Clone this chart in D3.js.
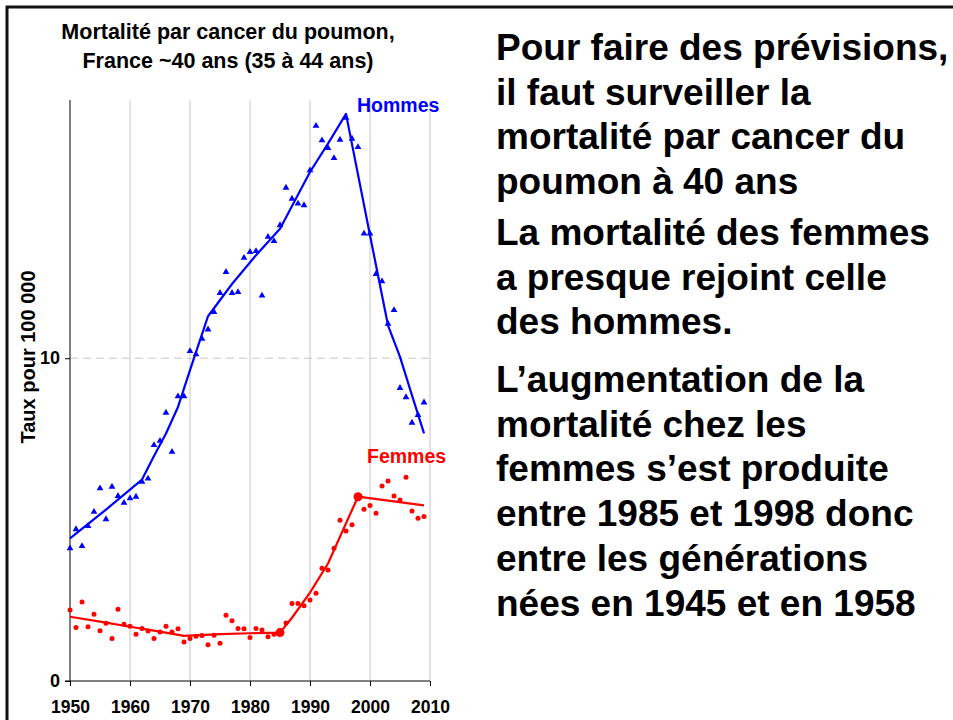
<!DOCTYPE html>
<html>
<head>
<meta charset="utf-8">
<script src="https://cdn.jsdelivr.net/npm/d3@7"></script>
<style>
  html, body { margin: 0; padding: 0; background: #fff; }
  svg { display: block; font-family: "Liberation Sans", Arial, sans-serif; }
</style>
</head>
<body>
<div id="area"></div>
<script>
// observed rates, per 100 000, 1950..2009
const years = d3.range(1950, 2010);
const hommes = [4.11, 4.70, 4.18, 4.80, 5.24, 5.97, 5.01, 6.02, 5.73, 5.52,
                5.66, 5.71, 6.17, 6.27, 7.31, 7.44, 8.31, 7.10, 8.82, 8.82,
                10.22, 10.12, 10.60, 10.89, 11.43, 12.02, 12.67, 12.02, 12.05, 13.11,
                13.29, 13.32, 11.94, 13.76, 13.63, 14.12, 15.28, 14.94, 14.79, 14.74,
                15.82, 17.20, 16.75, 16.51, 16.20, 16.77, 17.45, 16.80, 16.54, 13.86,
                13.86, 12.61, 12.38, 11.07, 11.49, 9.08, 8.79, 8.00, 8.24, 8.63];
const femmes = [2.20, 1.66, 2.45, 1.68, 2.07, 1.56, 1.79, 1.32, 2.22, 1.76,
                1.70, 1.45, 1.63, 1.55, 1.32, 1.52, 1.70, 1.52, 1.62, 1.21,
                1.32, 1.39, 1.41, 1.12, 1.42, 1.17, 2.04, 1.87, 1.63, 1.62,
                1.35, 1.63, 1.58, 1.37, 1.45, 1.50, 1.80, 2.40, 2.40, 2.33,
                2.51, 2.72, 3.49, 3.44, 4.11, 4.98, 4.65, 4.84, 5.71, 5.32,
                5.44, 5.20, 6.04, 6.20, 5.73, 5.61, 6.31, 5.27, 5.04, 5.10];

// fitted trend lines
const fitHommesYears = [1950, 1956, 1962, 1964, 1966, 1968, 1970, 1973, 1977, 1981, 1985, 1990, 1993, 1996, 2000, 2003, 2005, 2007, 2009];
const fitHommes      = [4.42, 5.31, 6.24, 6.97, 7.67, 8.49, 9.63, 11.30, 12.30, 13.19, 14.01, 15.77, 16.65, 17.57, 13.81, 11.02, 10.04, 8.85, 7.67];
const fitFemmesYears = [1950, 1955, 1960, 1965, 1969, 1975, 1980, 1985, 1987, 1990, 1993, 1995, 1998, 2009];
const fitFemmes      = [1.99, 1.84, 1.68, 1.53, 1.40, 1.45, 1.48, 1.50, 1.96, 2.74, 3.64, 4.47, 5.71, 5.44];
const joinYears = [1985, 1998];
const joinFemmes = [1.50, 5.71];

const xTicks = [1950, 1960, 1970, 1980, 1990, 2000, 2010];
const yTicks = [0, 10];

const titleLines = ["Mortalité par cancer du poumon,", "France ~40 ans (35 à 44 ans)"];
const textLines = [
  ["Pour faire des prévisions,", "il faut surveiller la", "mortalité par cancer du", "poumon à 40 ans"],
  ["La mortalité des femmes", "a presque rejoint celle", "des hommes."],
  ["L’augmentation de la", "mortalité chez les", "femmes s’est produite", "entre 1985 et 1998 donc", "entre les générations", "nées en 1945 et en 1958"]
];

const width = 953, height = 720;
const blue = '#0000ff', red = '#ff0000', grid = '#c8c8c8';

const svg = d3.select('#area').append('svg')
    .attr('width', width)
    .attr('height', height);

// slide frame
svg.append('rect')
    .attr('x', 7).attr('y', 7)
    .attr('width', width + 20).attr('height', height + 20)
    .attr('fill', 'none').attr('stroke', '#111').attr('stroke-width', 3);

const x = d3.scaleLinear().domain([1950, 2010]).range([70, 430]);
const y = d3.scaleLinear().domain([0, 18]).range([681, 100]);

// vertical grid
svg.append('g').selectAll('line')
    .data(xTicks.slice(1))
    .join('line')
    .attr('x1', d => x(d)).attr('x2', d => x(d))
    .attr('y1', y(18)).attr('y2', y(0))
    .attr('stroke', grid).attr('stroke-width', 1);

// dashed line at 10
svg.append('line')
    .attr('x1', x(1950)).attr('x2', x(2010))
    .attr('y1', y(10)).attr('y2', y(10))
    .attr('stroke', grid).attr('stroke-width', 1)
    .attr('stroke-dasharray', '8,5');

// axes
const xAxis = svg.append('g')
    .attr('transform', `translate(0,${y(0)})`)
    .call(d3.axisBottom(x).tickValues(xTicks).tickFormat(d3.format('d')).tickSize(5).tickPadding(15));
const yAxis = svg.append('g')
    .attr('transform', `translate(${x(1950)},0)`)
    .call(d3.axisLeft(y).tickValues(yTicks).tickSize(5).tickPadding(5));
yAxis.select('.domain').attr('d', `M-5,${y(0)}H0V${y(18)}`);
xAxis.select('.domain').attr('d', `M${x(1950)},0H${x(2010)}`);
[xAxis, yAxis].forEach(a => {
  a.select('.domain').attr('stroke', '#000');
  a.selectAll('.tick line').attr('stroke', '#000');
  a.selectAll('.tick text')
      .attr('fill', '#000')
      .style('font-family', '"Liberation Sans", Arial, sans-serif')
      .style('font-weight', 'bold')
      .style('font-size', '17.5px');
});
yAxis.selectAll('.tick text').style('font-size', '18px');

svg.append('text')
    .attr('transform', `translate(35,357) rotate(-90)`)
    .attr('text-anchor', 'middle')
    .attr('font-weight', 'bold')
    .attr('font-size', 20)
    .text('Taux pour 100 000');

// title
svg.append('g').selectAll('text')
    .data(titleLines)
    .join('text')
    .attr('x', 228)
    .attr('y', (d, i) => 39 + i * 29)
    .attr('text-anchor', 'middle')
    .attr('font-weight', 'bold')
    .attr('font-size', 21.5)
    .text(d => d);

const line = d3.line().x(d => x(d[0])).y(d => y(d[1]));

// hommes
svg.append('path')
    .datum(d3.zip(fitHommesYears, fitHommes))
    .attr('d', line)
    .attr('fill', 'none').attr('stroke', blue).attr('stroke-width', 2.2)
    .attr('stroke-linejoin', 'round');
svg.append('g').selectAll('path')
    .data(d3.zip(years, hommes))
    .join('path')
    .attr('transform', d => `translate(${x(d[0])},${y(d[1])})`)
    .attr('d', d3.symbol(d3.symbolTriangle, 20))
    .attr('fill', blue);

// femmes
svg.append('path')
    .datum(d3.zip(fitFemmesYears, fitFemmes))
    .attr('d', line)
    .attr('fill', 'none').attr('stroke', red).attr('stroke-width', 2.2)
    .attr('stroke-linejoin', 'round');
svg.append('g').selectAll('circle')
    .data(d3.zip(years, femmes))
    .join('circle')
    .attr('cx', d => x(d[0])).attr('cy', d => y(d[1]))
    .attr('r', 2.5)
    .attr('fill', red);
svg.append('g').selectAll('circle')
    .data(d3.zip(joinYears, joinFemmes))
    .join('circle')
    .attr('cx', d => x(d[0])).attr('cy', d => y(d[1]))
    .attr('r', 4.5)
    .attr('fill', red);

// series labels
svg.append('text')
    .attr('x', 357).attr('y', 112)
    .attr('font-weight', 'bold').attr('font-size', 19.5)
    .attr('fill', blue)
    .text('Hommes');
svg.append('text')
    .attr('x', 367).attr('y', 463)
    .attr('font-weight', 'bold').attr('font-size', 19.5)
    .attr('fill', red)
    .text('Femmes');

// commentary on the right
const paraTop = [60, 245, 392];
const body = svg.append('g')
    .attr('font-weight', 'bold')
    .attr('font-size', 37)
    .attr('fill', '#000');
textLines.forEach((para, p) => {
  body.selectAll(null)
      .data(para)
      .join('text')
      .attr('x', 496)
      .attr('y', (d, i) => paraTop[p] + i * 44.7)
      .text(d => d);
});
</script>
</body>
</html>
